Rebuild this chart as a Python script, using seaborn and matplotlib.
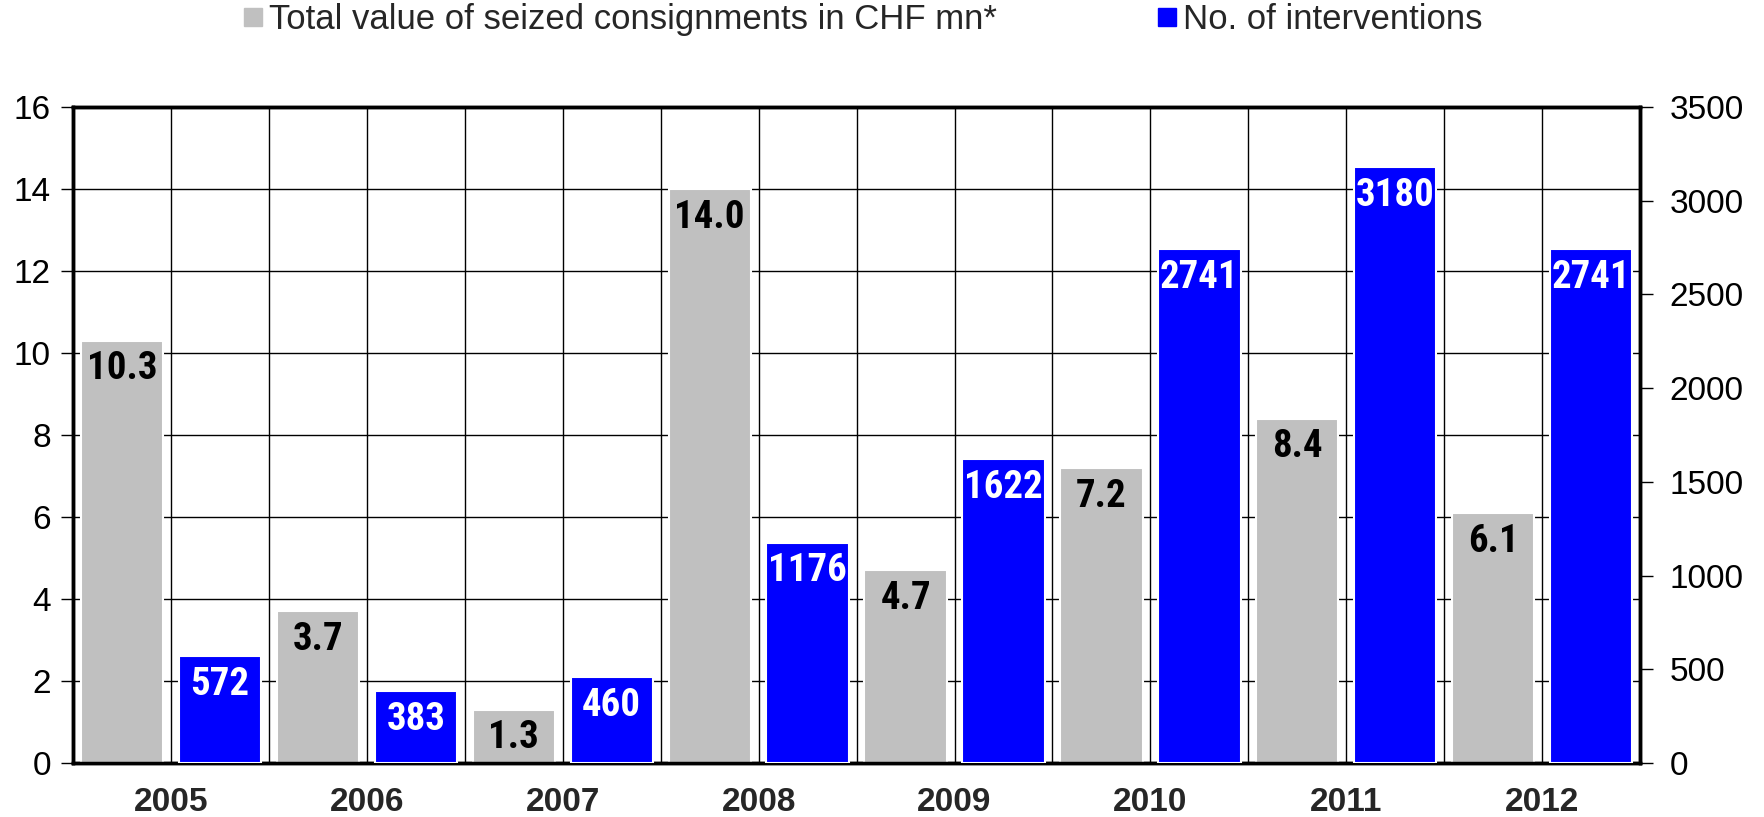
"""
Seized consignments vs. number of interventions, 2005-2012.
"""

import numpy as np
import pandas as pd
import matplotlib
matplotlib.use("Agg")
import matplotlib.pyplot as plt
from matplotlib import font_manager
from matplotlib.lines import Line2D
import seaborn as sns

years = ["2005", "2006", "2007", "2008", "2009", "2010", "2011", "2012"]
seized_value = [10.3, 3.7, 1.3, 14.0, 4.7, 7.2, 8.4, 6.1]
interventions = [572, 383, 460, 1176, 1622, 2741, 3180, 2741]
value_label = "Total value of seized consignments in CHF mn*"
count_label = "No. of interventions"

GREY = "#C0C0C0"
BLUE = "#0000FF"

sns.set_theme(style="white")
plt.rcParams["font.family"] = ["Liberation Sans", "DejaVu Sans"]

# the original uses a condensed bold face for the bar values; use one if installed
installed = {f.name for f in font_manager.fontManager.ttflist}
narrow = next((n for n in ["Liberation Sans Narrow", "Arial Narrow", "Roboto Condensed",
                           "Open Sans Condensed", "DejaVu Sans Condensed"]
               if n in installed), None)
value_font = [narrow, "Liberation Sans"] if narrow else ["Liberation Sans"]
value_size = 28 if narrow else 25

# each year gets two slots: grey bar then blue bar
slots = [f"{y}{s}" for y in years for s in ("a", "b")]
grey_df = pd.DataFrame({"slot": [f"{y}a" for y in years], "value": seized_value})
blue_df = pd.DataFrame({"slot": [f"{y}b" for y in years], "value": interventions})

fig = plt.figure(figsize=(17.64, 8.17), dpi=100)
ax = fig.add_axes([0.0414, 0.066, 0.8884, 0.803])
ax2 = ax.twinx()

sns.barplot(data=grey_df, x="slot", y="value", order=slots, ax=ax,
            color=GREY, saturation=1, width=0.84, errorbar=None,
            edgecolor="white", linewidth=1.5, zorder=3)
sns.barplot(data=blue_df, x="slot", y="value", order=slots, ax=ax2,
            color=BLUE, saturation=1, width=0.84, errorbar=None,
            edgecolor="white", linewidth=1.5, zorder=3)

ax.set_xlim(-0.5, len(slots) - 0.5)
ax.set_ylim(0, 16)
ax2.set_ylim(0, 3500)
ax.set_yticks(np.arange(0, 17, 2))
ax2.set_yticks(np.arange(0, 3501, 500))

# vertical separators between bars, year labels between each pair
ax.set_xticks(np.arange(0.5, len(slots) - 1, 1))
ax.set_xticklabels([years[i // 2] if i % 2 == 0 else "" for i in range(len(slots) - 1)],
                   fontsize=24, fontweight="bold")
ax.tick_params(axis="x", length=0, pad=17)
ax.tick_params(axis="y", left=True, length=9, width=1, direction="out",
               labelsize=24, pad=7, colors="black")
ax2.tick_params(axis="y", right=True, length=9, width=1, direction="out",
                labelsize=24, pad=12, colors="black")
ax.set_axisbelow(True)
ax.grid(True, color="black", linewidth=1)
ax.set_xlabel("")
ax.set_ylabel("")
ax2.set_ylabel("")

for a in (ax, ax2):
    for sp in a.spines.values():
        sp.set_color("black")
        sp.set_linewidth(2.5)

# value labels inside the top of each bar
for i, v in enumerate(seized_value):
    ax.annotate(f"{v:.1f}", (2 * i, v), xytext=(0, -7), textcoords="offset points",
                ha="center", va="top", fontsize=value_size, fontweight="bold",
                color="black", family=value_font, zorder=5)
for i, v in enumerate(interventions):
    ax2.annotate(f"{v}", (2 * i + 1, v), xytext=(0, -7), textcoords="offset points",
                 ha="center", va="top", fontsize=value_size, fontweight="bold",
                 color="white", family=value_font, zorder=5)

handles = [
    Line2D([], [], marker="s", linestyle="", color=GREY, markersize=13),
    Line2D([], [], marker="s", linestyle="", color=BLUE, markersize=13),
]
fig.legend(handles, [value_label, count_label], loc="upper center",
           bbox_to_anchor=(0.489, 1.035), ncol=2, frameon=False,
           prop={"size": 25}, handlelength=0.6,
           handletextpad=0.15, columnspacing=4.6)

fig.savefig("out.png", dpi=100)
